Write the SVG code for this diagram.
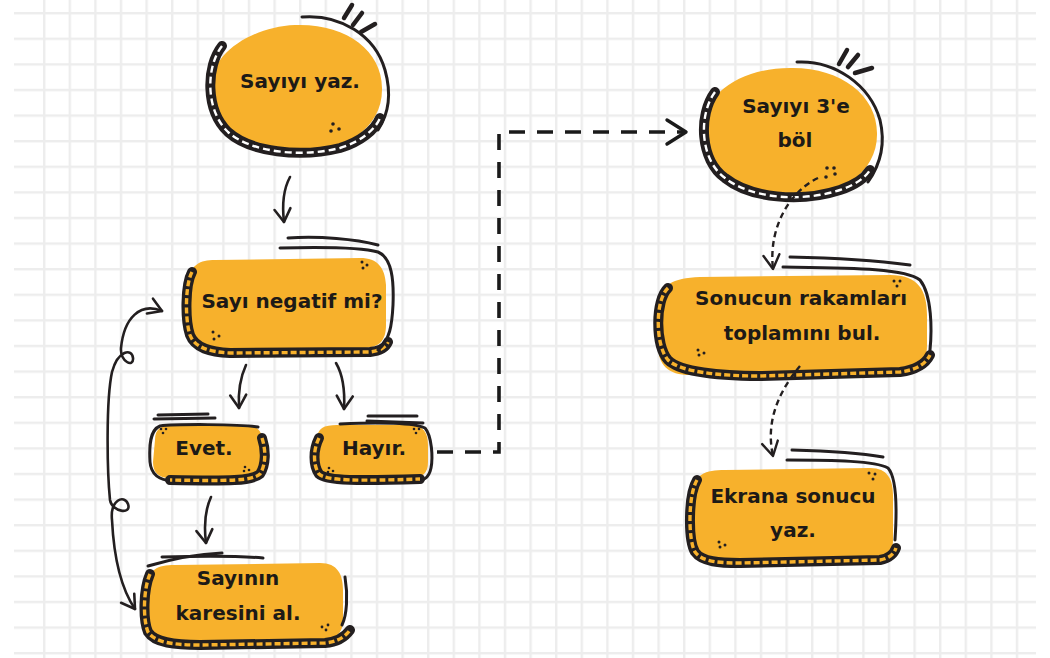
<svg xmlns="http://www.w3.org/2000/svg" width="1050" height="658" viewBox="0 0 1050 658">
  <defs>
    <style>
      .blob { fill: #F7B12C; }
      .band { fill: none; stroke: #231F20; stroke-width: 10; stroke-linecap: round; stroke-linejoin: round; }
      .band-dash { fill: none; stroke: #F7B12C; stroke-width: 3.4; stroke-dasharray: 6 3; stroke-linecap: butt; }
      .band-dash-w { fill: none; stroke: #ffffff; stroke-width: 2.4; stroke-dasharray: 7 4; }
      .ink { fill: none; stroke: #231F20; stroke-width: 3; stroke-linecap: round; stroke-linejoin: round; }
      .tick { fill: none; stroke: #231F20; stroke-width: 4.5; stroke-linecap: round; }
      .dot { fill: #231F20; }
      .label { font-family: "DejaVu Sans", "Liberation Sans", sans-serif; font-weight: bold; font-size: 20px; fill: #1d1a17; text-anchor: middle; }
      .conn { fill: none; stroke: #231F20; stroke-width: 2.6; stroke-linecap: round; stroke-linejoin: round; }
      .conn-elbow { fill: none; stroke: #1a1a1a; stroke-width: 3.6; stroke-dasharray: 16 12; }
      .conn-dash { fill: none; stroke: #231F20; stroke-width: 2.4; stroke-dasharray: 6 4; }
    </style>
    <pattern id="hlines" patternUnits="userSpaceOnUse" x="0" y="12" width="25.6" height="25.6">
      <line x1="0" y1="0" x2="25.6" y2="0" stroke="#ededed" stroke-width="4.8"/>
    </pattern>
    <pattern id="vlines" patternUnits="userSpaceOnUse" x="43" y="0" width="25.6" height="25.6">
      <line x1="0" y1="0" x2="0" y2="25.6" stroke="#ededed" stroke-width="4.8"/>
    </pattern>
    <marker id="vhead" markerUnits="userSpaceOnUse" markerWidth="30" markerHeight="30" refX="0" refY="0" viewBox="-20 -15 30 30" orient="auto-start-reverse" overflow="visible">
      <path d="M-13,-8 L0,0 L-13,8" fill="none" stroke="#231F20" stroke-width="2.6" stroke-linecap="round" stroke-linejoin="round"/>
    </marker>
    <marker id="vhead-big" markerUnits="userSpaceOnUse" markerWidth="30" markerHeight="30" refX="0" refY="0" viewBox="-20 -15 30 30" orient="auto" overflow="visible">
      <path d="M-19,-12 L0,0 L-19,12" fill="none" stroke="#1a1a1a" stroke-width="3.4" stroke-linecap="round" stroke-linejoin="round"/>
    </marker>
    <marker id="vhead-small" markerUnits="userSpaceOnUse" markerWidth="30" markerHeight="30" refX="0" refY="0" viewBox="-20 -15 30 30" orient="auto" overflow="visible">
      <path d="M-14,-8 L0,0 L-14,8" fill="none" stroke="#231F20" stroke-width="2.4" stroke-linecap="round" stroke-linejoin="round"/>
    </marker>
  </defs>

  <!-- squared paper background -->
  <rect width="1050" height="658" fill="#ffffff"/>
  <rect x="30" y="0" width="1000" height="658" fill="url(#vlines)"/>
  <rect x="14" y="8" width="1022" height="650" fill="url(#hlines)"/>

  <!-- Sayıyı yaz. -->
  <g id="node-sayiyi-yaz">
    <path class="blob" d="M210,92 C208,55 250,27 295,25 C345,23 382,50 382,88 C383,128 345,152 298,152 C250,153 212,130 210,92 Z"/>
    <path class="band" d="M222,46 C206,66 205,110 228,132 C250,152 300,158 340,148 C360,142 375,130 380,118"/>
    <path class="band-dash-w" d="M222,46 C206,66 205,110 228,132 C250,152 300,158 340,148 C360,142 375,130 380,118"/>
    <path class="ink" d="M302,17 C340,14 375,35 385,70 C392,95 388,115 378,130"/>
    <path class="tick" d="M344,18 L352,5 M353,25 L362,13 M361,32 L375,24"/>
    <circle class="dot" cx="333" cy="124" r="1.8"/>
    <circle class="dot" cx="339" cy="129" r="1.8"/>
    <circle class="dot" cx="331" cy="131" r="1.8"/>
    <text class="label" x="300" y="88">Sayıyı yaz.</text>
  </g>

  <!-- Sayı negatif mi? -->
  <g id="node-negatif">
    <path class="blob" d="M190,280 C190,265 200,260 215,260 L360,258 C378,258 385,268 386,285 L386,325 C386,342 378,348 362,348 L210,348 C195,348 188,340 188,325 Z"/>
    <path class="band" d="M192,272 C185,285 185,320 190,335 C195,348 210,352 230,353 L370,352 C380,351 386,347 388,342"/>
    <path class="band-dash" d="M192,272 C185,285 185,320 190,335 C195,348 210,352 230,353 L370,352 C380,351 386,347 388,342"/>
    <path class="ink" d="M280,248 C320,247 360,247 378,252 C392,258 394,280 393,305 C392,325 390,340 378,350"/>
    <path class="ink" d="M288,238 C320,236 355,239 378,245"/>
    <circle class="dot" cx="362" cy="262" r="1.5"/>
    <circle class="dot" cx="367" cy="265" r="1.5"/>
    <circle class="dot" cx="363" cy="268" r="1.5"/>
    <circle class="dot" cx="213" cy="332" r="1.5"/>
    <circle class="dot" cx="219" cy="336" r="1.5"/>
    <circle class="dot" cx="214" cy="339" r="1.5"/>
    <text class="label" x="292" y="308">Sayı negatif mi?</text>
  </g>

  <!-- Evet. -->
  <g id="node-evet">
    <path class="blob" d="M155,440 C155,428 162,425 175,425 L245,425 C258,425 263,432 263,445 L263,462 C263,474 256,478 245,478 L170,478 C158,478 153,472 153,462 Z"/>
    <path class="ink" d="M258,427 C240,424 175,424 160,426 C150,430 149,445 150,462 C151,474 158,480 172,481"/>
    <path class="band" d="M262,438 C266,450 266,465 260,474 C252,481 230,481 170,480"/>
    <path class="band-dash" d="M262,438 C266,450 266,465 260,474 C252,481 230,481 170,480"/>
    <path class="ink" d="M158,415 L208,414 M154,419 L215,418"/>
    <circle class="dot" cx="161" cy="429" r="1.3"/>
    <circle class="dot" cx="166" cy="429" r="1.3"/>
    <circle class="dot" cx="163" cy="433" r="1.3"/>
    <circle class="dot" cx="245" cy="467" r="1.3"/>
    <circle class="dot" cx="249" cy="470" r="1.3"/>
    <circle class="dot" cx="244" cy="471" r="1.3"/>
    <text class="label" x="204" y="455">Evet.</text>
  </g>

  <!-- Hayır. -->
  <g id="node-hayir">
    <path class="blob" d="M317,440 C317,428 324,425 337,425 L410,425 C423,425 428,432 428,445 L428,462 C428,474 422,478 410,478 L330,478 C319,478 315,472 315,462 Z"/>
    <path class="ink" d="M340,424 C380,422 415,423 425,428 C432,436 433,458 431,468 C429,478 424,481 412,482"/>
    <path class="band" d="M319,438 C313,450 313,465 319,474 C326,481 360,481 420,479"/>
    <path class="band-dash" d="M319,438 C313,450 313,465 319,474 C326,481 360,481 420,479"/>
    <path class="ink" d="M368,416 L417,416 M367,421 L423,423"/>
    <circle class="dot" cx="414" cy="429" r="1.3"/>
    <circle class="dot" cx="419" cy="429" r="1.3"/>
    <circle class="dot" cx="416" cy="433" r="1.3"/>
    <circle class="dot" cx="329" cy="468" r="1.3"/>
    <circle class="dot" cx="333" cy="471" r="1.3"/>
    <circle class="dot" cx="328" cy="472" r="1.3"/>
    <text class="label" x="374" y="455">Hayır.</text>
  </g>

  <!-- Sayının karesini al. -->
  <g id="node-karesi">
    <path class="blob" d="M148,585 C148,570 157,565 175,565 L320,563 C338,563 343,575 343,590 L343,620 C343,634 335,640 320,640 L170,640 C155,640 147,632 147,618 Z"/>
    <path class="band" d="M150,574 C143,590 143,620 148,632 C155,643 175,645 200,645 L325,643 C337,642 345,637 350,630"/>
    <path class="band-dash" d="M150,574 C143,590 143,620 148,632 C155,643 175,645 200,645 L325,643 C337,642 345,637 350,630"/>
    <path class="ink" d="M148,566 C175,558 200,554 222,553"/>
    <path class="ink" d="M162,557 C200,556 240,556 263,558"/>
    <path class="ink" d="M345,577 C348,595 347,615 342,625"/>
    <circle class="dot" cx="322" cy="627" r="1.4"/>
    <circle class="dot" cx="328" cy="625" r="1.4"/>
    <circle class="dot" cx="326" cy="630" r="1.4"/>
    <text class="label" x="238" y="585">Sayının</text>
    <text class="label" x="238" y="620">karesini al.</text>
  </g>

  <!-- Sayıyı 3'e böl -->
  <g id="node-uce-bol">
    <path class="blob" d="M702,135 C700,95 740,68 790,68 C840,67 877,95 877,133 C878,172 840,198 792,198 C742,199 703,175 702,135 Z"/>
    <path class="band" d="M715,92 C698,115 700,160 725,178 C750,198 800,203 840,190 C855,185 865,178 870,170"/>
    <path class="band-dash-w" d="M715,92 C698,115 700,160 725,178 C750,198 800,203 840,190 C855,185 865,178 870,170"/>
    <path class="ink" d="M797,62 C835,60 870,85 880,120 C886,145 880,165 868,182"/>
    <path class="tick" d="M839,64 L847,50 M848,67 L858,55 M855,73 L872,68"/>
    <circle class="dot" cx="827" cy="168" r="1.8"/>
    <circle class="dot" cx="834" cy="168" r="1.8"/>
    <circle class="dot" cx="835" cy="174" r="1.8"/>
    <circle class="dot" cx="826" cy="177" r="1.8"/>
    <text class="label" x="796" y="113">Sayıyı 3'e</text>
    <text class="label" x="795" y="147">böl</text>
  </g>

  <!-- Sonucun rakamları toplamını bul. -->
  <g id="node-rakamlar">
    <path class="blob" d="M660,305 C660,285 672,278 700,277 L890,275 C918,275 927,290 927,315 L927,345 C927,368 915,375 890,375 L690,375 C668,375 658,365 658,345 Z"/>
    <path class="band" d="M668,288 C655,300 655,345 668,360 C680,372 720,376 760,376 L900,372 C915,370 925,365 930,355"/>
    <path class="band-dash" d="M668,288 C655,300 655,345 668,360 C680,372 720,376 760,376 L900,372 C915,370 925,365 930,355"/>
    <path class="ink" d="M783,267 C850,268 905,268 920,280 C932,295 932,330 930,350"/>
    <path class="ink" d="M790,257 C840,258 880,261 910,265"/>
    <circle class="dot" cx="894" cy="281" r="1.5"/>
    <circle class="dot" cx="900" cy="281" r="1.5"/>
    <circle class="dot" cx="897" cy="286" r="1.5"/>
    <circle class="dot" cx="698" cy="350" r="1.5"/>
    <circle class="dot" cx="704" cy="353" r="1.5"/>
    <circle class="dot" cx="699" cy="355" r="1.5"/>
    <text class="label" x="801" y="305">Sonucun rakamları</text>
    <text class="label" x="802" y="340">toplamını bul.</text>
  </g>

  <!-- Ekrana sonucu yaz. -->
  <g id="node-ekrana">
    <path class="blob" d="M694,490 C694,475 705,470 725,470 L870,468 C888,468 893,480 893,495 L893,540 C893,555 885,560 870,560 L710,560 C697,560 692,553 692,540 Z"/>
    <path class="band" d="M697,480 C688,495 688,540 695,552 C702,562 720,563 740,563 L880,560 C890,558 894,554 896,548"/>
    <path class="band-dash" d="M697,480 C688,495 688,540 695,552 C702,562 720,563 740,563 L880,560 C890,558 894,554 896,548"/>
    <path class="ink" d="M787,460 C835,460 875,461 888,468 C897,478 897,510 895,540"/>
    <path class="ink" d="M792,450 C830,451 860,453 883,457"/>
    <circle class="dot" cx="869" cy="473" r="1.5"/>
    <circle class="dot" cx="875" cy="474" r="1.5"/>
    <circle class="dot" cx="873" cy="479" r="1.5"/>
    <circle class="dot" cx="719" cy="542" r="1.5"/>
    <circle class="dot" cx="725" cy="545" r="1.5"/>
    <circle class="dot" cx="720" cy="547" r="1.5"/>
    <text class="label" x="793" y="503">Ekrana sonucu</text>
    <text class="label" x="793" y="537">yaz.</text>
  </g>

  <!-- connectors, drawn last so the dashed curves run over the node edges -->
  <g id="connectors">
    <path class="conn" d="M290,177 C283,190 282,205 284,222" marker-end="url(#vhead)"/>
    <path class="conn" d="M246,365 C240,378 238,392 239,408" marker-end="url(#vhead)"/>
    <path class="conn" d="M336,363 C343,375 345,392 344,409" marker-end="url(#vhead)"/>
    <path class="conn" d="M211,497 C205,510 204,527 206,543" marker-end="url(#vhead)"/>
    <path class="conn" d="M162,311 C140,302 124,318 121,348 C120,362 134,368 133,358 C132,348 118,350 112,372 C106,400 107,470 110,500 C112,512 132,515 128,504 C124,494 110,500 112,520 C114,560 122,590 135,609" marker-start="url(#vhead)" marker-end="url(#vhead)"/>
    <path class="conn-elbow" d="M437,452 L499,452 L499,132 L686,132" marker-end="url(#vhead-big)"/>
    <path class="conn-dash" d="M818,178 C792,190 768,225 773,269" marker-end="url(#vhead-small)"/>
    <path class="conn-dash" d="M800,366 C780,390 765,420 773,456" marker-end="url(#vhead-small)"/>
  </g>
</svg>
